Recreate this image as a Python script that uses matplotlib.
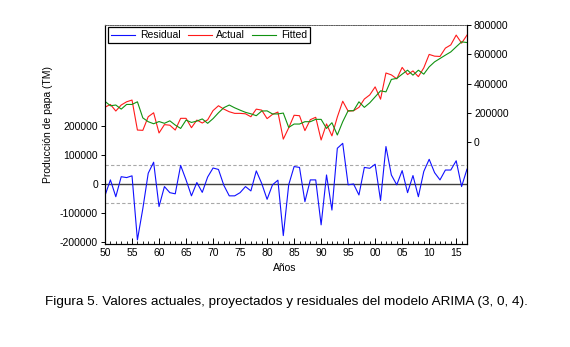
import matplotlib
matplotlib.use("Agg")
import matplotlib.pyplot as plt
from matplotlib.ticker import MultipleLocator

# Residual / Actual / Fitted, ARIMA(3,0,4) potato production
years = list(range(1950, 2018))

residual = [-40000, 14000, -44000, 25000, 22000, 28000, -193000, -85000, 37000, 75000,
            -78000, -9000, -30000, -34000, 64000, 14000, -41000, 5000, -29000, 24000,
            55000, 50000, -5000, -41000, -41000, -30000, -9000, -24000, 45000, 2000,
            -53000, -3000, 13000, -178000, -3000, 60000, 57000, -61000, 14000, 14000,
            -141000, 31000, -90000, 123000, 140000, -3000, 0, -38000, 57000, 54000,
            68000, -57000, 129000, 31000, -3000, 46000, -30000, 29000, -44000, 43000,
            85000, 39000, 14000, 48000, 48000, 80000, -9000, 51000]

actual = [238000, 257000, 212000, 253000, 275000, 287000, 82000, 80000, 173000, 200000,
          62000, 119000, 115000, 82000, 162000, 162000, 98000, 150000, 130000, 152000,
          215000, 248000, 225000, 207000, 196000, 196000, 193000, 173000, 225000, 218000,
          160000, 189000, 205000, 20000, 97000, 183000, 180000, 78000, 153000, 169000,
          14000, 124000, 42000, 171000, 279000, 211000, 214000, 237000, 294000, 322000,
          377000, 293000, 472000, 459000, 432000, 510000, 461000, 486000, 447000, 507000,
          599000, 587000, 585000, 642000, 664000, 731000, 676000, 731000]

fitted = [278000, 248000, 253000, 225000, 257000, 257000, 275000, 165000, 139000, 125000,
          140000, 128000, 145000, 116000, 93000, 150000, 134000, 143000, 158000, 128000,
          160000, 200000, 235000, 253000, 234000, 218000, 203000, 193000, 180000, 212000,
          213000, 192000, 192000, 198000, 100000, 123000, 123000, 139000, 139000, 155000,
          155000, 93000, 132000, 48000, 139000, 214000, 214000, 275000, 237000, 268000,
          309000, 350000, 343000, 428000, 435000, 464000, 491000, 457000, 491000, 464000,
          514000, 548000, 571000, 594000, 616000, 651000, 685000, 680000]

left_ticks = [-200000, -100000, 0, 100000, 200000]
right_ticks = [0, 200000, 400000, 600000, 800000]
band = 66000

plt.rcParams['font.family'] = ['Liberation Sans', 'DejaVu Sans']
FS = 7.5

fig = plt.figure(figsize=(5.7, 3.47), dpi=100)
ax = fig.add_axes([105/570, 1-244/347, (467-105)/570, (244-25)/347])
ax2 = ax.twinx()

ax.axhline(0, color='#404040', lw=1.0, zorder=1)
ax.axhline(band, color='#a8a8a8', lw=0.8, ls=(0, (3, 2)), zorder=1)
ax.axhline(-band, color='#a8a8a8', lw=0.8, ls=(0, (3, 2)), zorder=1)

l1, = ax.plot(years, residual, color='#1010ff', lw=0.8, label='Residual')
l2, = ax2.plot(years, actual, color='#ff1a1a', lw=0.8, label='Actual')
l3, = ax2.plot(years, fitted, color='#119211', lw=0.8, label='Fitted')

ax.set_xlim(1950, 2017)
ax.set_ylim(-207000, 548000)
ax2.set_ylim(-697000, 800000)

ax.set_yticks(left_ticks)
ax.set_yticklabels([str(v) for v in left_ticks], fontsize=FS)
ax2.set_yticks(right_ticks)
ax2.set_yticklabels([str(v) for v in right_ticks], fontsize=FS)

ax.xaxis.set_minor_locator(MultipleLocator(1))
xt = list(range(1950, 2017, 5))
ax.set_xticks(xt)
ax.set_xticklabels(["%02d" % (y % 100) for y in xt], fontsize=FS)
ax.tick_params(axis='x', which='major', direction='in', length=4, width=0.7, pad=3)
ax.tick_params(axis='x', which='minor', direction='in', length=2, width=0.6)
ax.tick_params(axis='y', direction='out', length=3, width=0.7, pad=2)
ax2.tick_params(axis='y', direction='out', length=3, width=0.7, pad=2)

for a in (ax, ax2):
    a.spines['top'].set_linestyle((0, (1, 1.5)))
    a.spines['top'].set_color('#606060')
    a.spines['top'].set_linewidth(0.7)
    for s in ('left', 'right', 'bottom'):
        a.spines[s].set_linewidth(0.8)

leg = ax2.legend(handles=[l1, l2, l3], loc='upper left', bbox_to_anchor=(0.008, 0.99),
                 ncol=3, fontsize=FS, handlelength=2.3, handletextpad=0.45,
                 columnspacing=0.7, borderpad=0.3, fancybox=False, framealpha=1,
                 borderaxespad=0)
leg.get_frame().set_edgecolor('black')
leg.get_frame().set_linewidth(0.9)

fig.text(48/570, 1-124/347, 'Producción de papa (TM)', rotation=90, ha='center', va='center', fontsize=FS)
fig.text(285/570, 1-268/347, 'Años', ha='center', va='center', fontsize=FS)
fig.text(286/570, 1-302/347, 'Figura 5. Valores actuales, proyectados y residuales del modelo ARIMA (3, 0, 4).',
         ha='center', va='center', fontsize=9.7)

fig.savefig('out.png', dpi=100)
